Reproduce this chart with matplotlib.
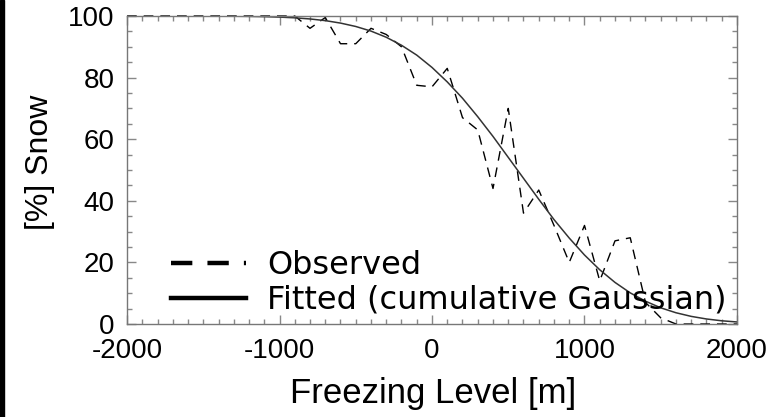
import numpy as np
import matplotlib.pyplot as plt
from matplotlib.lines import Line2D
from matplotlib.patches import Rectangle
from matplotlib.ticker import MultipleLocator

plt.rcParams['axes.unicode_minus'] = False

# freezing level bins [m]
levels = np.arange(-2000, 2001, 100)

# observed snow fraction [%]
observed = [100, 100, 100, 100, 100, 100, 100, 100, 100, 100, 100, 100,
            96, 99.5, 91, 91, 96, 94, 90, 77.5, 77, 83, 67, 63, 44, 70,
            36, 43.5, 32, 20, 32, 14, 27, 28, 7, 2,
            0, 0, 0, 0, 0]

# fitted curve [%]
fitted = [100, 100, 100, 100, 99.99, 99.98, 99.96, 99.93, 99.88, 99.79,
          99.64, 99.41, 99.04, 98.5, 97.7, 96.6, 95.1, 93.1, 90.5, 87.3,
          83.3, 78.6, 73.3, 67.3, 60.9, 54.1, 47.3, 40.5, 33.9, 27.9,
          22.4, 17.6, 13.5, 10.1, 7.4, 5.25, 3.65, 2.47, 1.63, 1.04, 0.66]

W, H = 783, 417
fig = plt.figure(figsize=(W / 100, H / 100), dpi=100)
fig.patches.append(Rectangle((0, 0), 4 / W, 1, transform=fig.transFigure,
                             color='black', zorder=-1))

ax = fig.add_axes([127 / W, 1 - 324 / H, 610 / W, 308 / H])

ax.plot(levels, observed, color='black', lw=1.0, dashes=(7, 5), clip_on=False)
ax.plot(levels, fitted, color='#333333', lw=1.1)

ax.set_xlim(-2000, 2000)
ax.set_ylim(0, 100)
ax.xaxis.set_major_locator(MultipleLocator(1000))
ax.xaxis.set_minor_locator(MultipleLocator(100))
ax.yaxis.set_major_locator(MultipleLocator(20))
ax.yaxis.set_minor_locator(MultipleLocator(5))

tick_font = ['Liberation Sans', 'DejaVu Sans']
ax.tick_params(which='both', direction='in', top=True, right=True,
               color='#888888', width=1.0)
ax.tick_params(which='major', length=6.5)
ax.tick_params(which='minor', length=3.5)
ax.tick_params(axis='y', pad=9)
ax.tick_params(axis='x', pad=10)
for lab in ax.get_xticklabels() + ax.get_yticklabels():
    lab.set_fontfamily(tick_font)
    lab.set_fontsize(20)
for sp in ax.spines.values():
    sp.set_color('#777777')
    sp.set_linewidth(1.0)

fig.text(40 / W, 1 - 162 / H, '[%] Snow', rotation=90, ha='center',
         va='center', family=tick_font, fontsize=23)
fig.text(433 / W, 1 - 393 / H, 'Freezing Level [m]', ha='center',
         va='center', family=tick_font, fontsize=25)

handles = [Line2D([], [], color='black', lw=3.2, dashes=(4.8, 3.4)),
           Line2D([], [], color='black', lw=3.2)]
ax.legend(handles, ['Observed', 'Fitted (cumulative Gaussian)'],
          loc='center left', bbox_to_anchor=(171 / W, 1 - 283 / H),
          bbox_transform=fig.transFigure, frameon=False, borderpad=0,
          borderaxespad=0, handlelength=2.35, handletextpad=0.65,
          labelspacing=0.12, prop={'family': 'DejaVu Sans', 'size': 23})

fig.savefig('out.png', dpi=100)
